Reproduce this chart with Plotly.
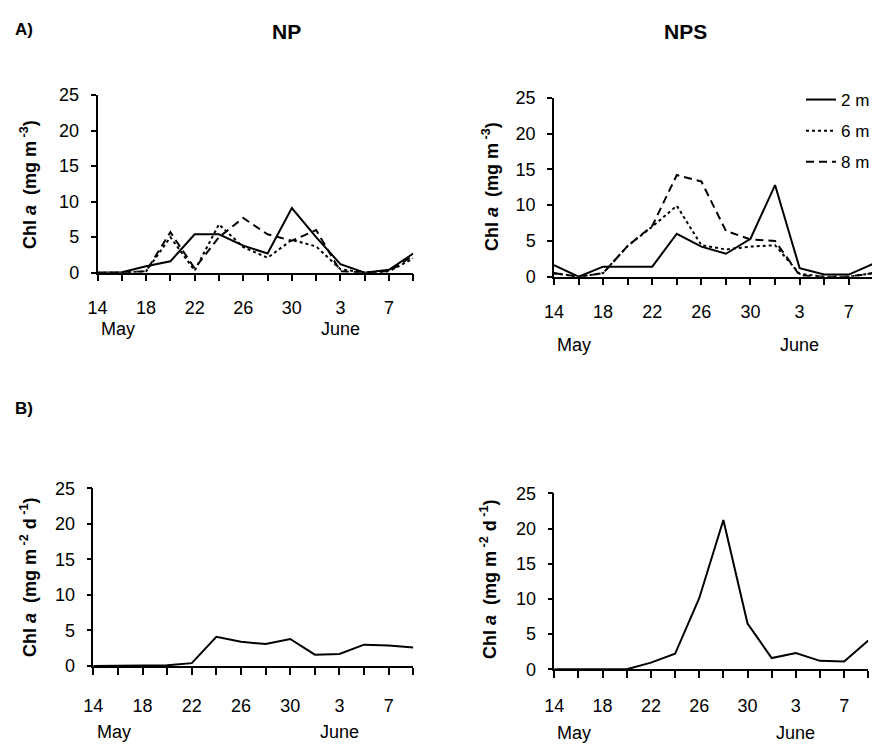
import plotly.graph_objects as go

# ---- data (days since 14 May, sampled every 2 days) ----
days = [0, 2, 4, 6, 8, 10, 12, 14, 16, 18, 20, 22, 24, 26]
label_days = [0, 4, 8, 12, 16, 20, 24]
label_text = ["14", "18", "22", "26", "30", "3", "7"]
month_labels = ["May", "June"]
month_pos = [1.65, 20.0]

np_2m = [0, 0.05, 0.9, 1.6, 5.4, 5.4, 3.8, 2.7, 9.1, 5.0, 1.2, 0, 0.4, 2.7]
np_6m = [0, 0, 0.2, 5.0, 0.3, 6.8, 3.6, 2.1, 4.6, 3.7, 0.5, 0, 0.2, 2.0]
np_8m = [0, 0, 0.2, 5.7, 0.6, 5.0, 7.7, 5.4, 4.5, 6.0, 0.2, 0, 0.2, 2.4]

nps_2m = [1.6, 0, 1.4, 1.4, 1.4, 6.0, 4.2, 3.2, 5.3, 12.8, 1.2, 0.3, 0.3, 1.8]
nps_6m = [0.5, 0, 0.5, 4.3, 7.0, 9.9, 4.4, 3.8, 4.2, 4.4, 0.4, 0, 0, 0.5]
nps_8m = [0.5, 0, 0.5, 4.3, 7.1, 14.2, 13.3, 6.4, 5.2, 5.0, 0.2, 0, 0, 0.5]

np_sed = [0, 0, 0.05, 0.1, 0.4, 4.1, 3.4, 3.1, 3.8, 1.6, 1.7, 3.0, 2.9, 2.6]
nps_sed = [0, 0, 0, 0, 0.95, 2.2, 10.1, 21.2, 6.5, 1.6, 2.3, 1.2, 1.1, 4.1]

depth_names = ["2 m", "6 m", "8 m"]
depth_dash = ["solid", "dot", "8px,5px"]

# page has an 8px body margin; figure sized so that it fills the 880x745 window
OFF = 8
W, H = 880 - OFF, 745 - OFF
FONT = "Liberation Sans, Arial, sans-serif"


def fx(px):
    return (px - OFF) / W


def fy(py):
    return 1 - (py - OFF) / H


fig = go.Figure()

# (xaxis, yaxis, left px, right px, top px, bottom px, tick-label standoff, month-label shift)
panels = [
    ("x", "y", 97.5, 413.3, 95.0, 272.7, 11, -56),
    ("x2", "y2", 554.0, 873.3, 97.7, 276.7, 11, -68),
    ("x3", "y3", 93.3, 413.3, 488.3, 666.0, 16, -66),
    ("x4", "y4", 554.3, 868.3, 493.3, 669.3, 12, -64),
]

for i, (vals_np, vals_nps) in enumerate(zip([np_2m, np_6m, np_8m], [nps_2m, nps_6m, nps_8m])):
    fig.add_trace(go.Scatter(x=days, y=vals_np, mode="lines", xaxis="x", yaxis="y",
                             line=dict(color="black", width=2, dash=depth_dash[i]),
                             showlegend=False, cliponaxis=False, name=depth_names[i]))
    fig.add_trace(go.Scatter(x=days, y=vals_nps, mode="lines", xaxis="x2", yaxis="y2",
                             line=dict(color="black", width=2, dash=depth_dash[i]),
                             showlegend=True, cliponaxis=False, name=depth_names[i],
                             legendgroup=depth_names[i]))

fig.add_trace(go.Scatter(x=days, y=np_sed, mode="lines", xaxis="x3", yaxis="y3",
                         line=dict(color="black", width=2), showlegend=False, cliponaxis=False))
fig.add_trace(go.Scatter(x=days, y=nps_sed, mode="lines", xaxis="x4", yaxis="y4",
                         line=dict(color="black", width=2), showlegend=False, cliponaxis=False))

layout = dict(
    width=W, height=H,
    margin=dict(l=0, r=0, t=0, b=0, pad=0, autoexpand=False),
    paper_bgcolor="white", plot_bgcolor="white",
    font=dict(family=FONT, color="black", size=18),
    showlegend=True,
    legend=dict(x=fx(801), y=fy(82), xanchor="left", yanchor="top",
                font=dict(size=17, family=FONT), bgcolor="rgba(0,0,0,0)",
                tracegroupgap=6),
)

annotations = []
for xa, ya, l, r, t, b, stand, mshift in panels:
    xname = "xaxis" + xa[1:]
    yname = "yaxis" + ya[1:]
    layout[xname] = dict(domain=[fx(l), fx(r)], range=[0, 26], anchor=ya, showgrid=False,
                         zeroline=False, automargin=False,
                         showline=True, linecolor="black", linewidth=1.5,
                         ticks="outside", ticklen=7, tickwidth=1.5, tickcolor="black",
                         tickvals=label_days, ticktext=label_text, ticklabelstandoff=stand,
                         tickfont=dict(size=18, family=FONT),
                         minor=dict(tickvals=days, ticks="outside", ticklen=7, tickwidth=1.5,
                                    tickcolor="black", showgrid=False))
    layout[yname] = dict(domain=[fy(b), fy(t)], range=[0, 25], anchor=xa, showgrid=False,
                         zeroline=False, automargin=False,
                         showline=True, linecolor="black", linewidth=1.5,
                         ticks="outside", ticklen=5, tickwidth=1.5, tickcolor="black",
                         tickvals=[0, 5, 10, 15, 20, 25], ticklabelstandoff=8,
                         tickfont=dict(size=18, family=FONT))
    for lab, pos in zip(month_labels, month_pos):
        annotations.append(dict(text=lab, x=pos, y=0, xref=xa, yref=ya + " domain",
                                yshift=mshift, showarrow=False, xanchor="center", yanchor="middle",
                                font=dict(size=18, family=FONT)))

ytitle_top = "Chl <i>a</i>  (mg m<sup> -3</sup>)"
ytitle_bot = "Chl <i>a</i>  (mg m<sup> -2</sup> d<sup> -1</sup>)"
for txt, xp, yp in [(ytitle_top, 28, 185), (ytitle_top, 490, 186),
                    (ytitle_bot, 28, 578), (ytitle_bot, 488, 580)]:
    annotations.append(dict(text="<b>" + txt + "</b>", x=fx(xp), y=fy(yp), xref="paper", yref="paper",
                            textangle=-90, showarrow=False, xanchor="center", yanchor="middle",
                            font=dict(size=18, family=FONT)))

for txt, xp, yp, sz in [("<b>A)</b>", 24, 30, 17), ("<b>B)</b>", 24, 408, 17),
                        ("<b>NP</b>", 286, 32, 21), ("<b>NPS</b>", 685, 32, 21)]:
    annotations.append(dict(text=txt, x=fx(xp), y=fy(yp), xref="paper", yref="paper",
                            showarrow=False, xanchor="center", yanchor="middle",
                            font=dict(size=sz, family="Liberation Sans Narrow, " + FONT)))

layout["annotations"] = annotations
fig.update_layout(**layout)

fig.write_html("out.html")
